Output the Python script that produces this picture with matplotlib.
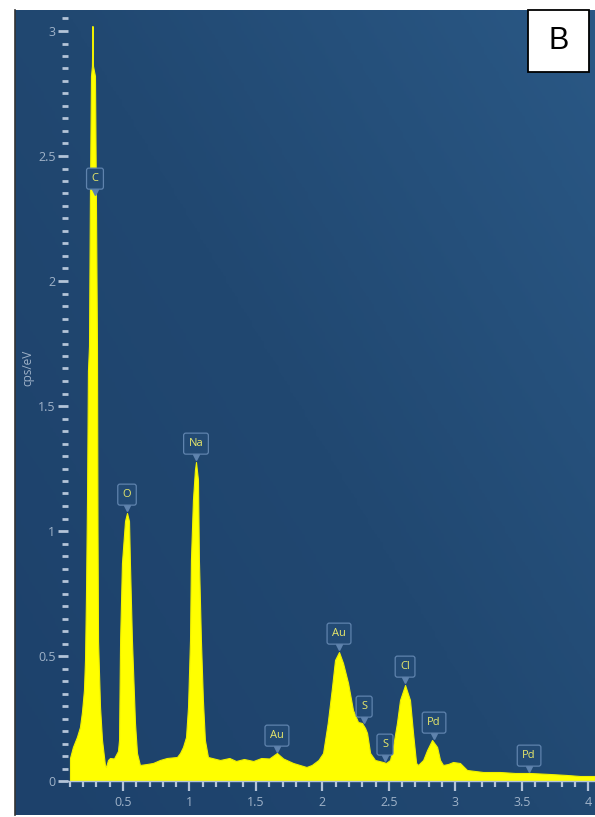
import matplotlib
matplotlib.use("Agg")
import matplotlib.pyplot as plt
import numpy as np
from matplotlib.colors import LinearSegmentedColormap
from matplotlib.patches import Rectangle
from matplotlib.ticker import MultipleLocator
import matplotlib.transforms as mtransforms

# EDS spectrum, energy in keV and intensity in cps/eV
energy = [0.101, 0.123, 0.153, 0.176, 0.191, 0.206, 0.214, 0.221, 0.229, 0.236,
          0.244, 0.251, 0.259, 0.266, 0.270, 0.274, 0.289, 0.296, 0.304, 0.308,
          0.312, 0.327, 0.342, 0.364, 0.372, 0.387, 0.402, 0.432, 0.462, 0.470,
          0.478, 0.492, 0.515, 0.530, 0.545, 0.552, 0.567, 0.590, 0.605, 0.627,
          0.680, 0.725, 0.778, 0.830, 0.906, 0.929, 0.951, 0.974, 0.989, 1.004,
          1.011, 1.026, 1.041, 1.049, 1.064, 1.071, 1.086, 1.101, 1.116, 1.139,
          1.169, 1.230, 1.300, 1.350, 1.410, 1.480, 1.540, 1.600, 1.658, 1.705,
          1.780, 1.830, 1.880, 1.920, 1.970, 2.005, 2.040, 2.070, 2.095, 2.125,
          2.155, 2.193, 2.230, 2.268, 2.298, 2.321, 2.336, 2.359, 2.396, 2.456,
          2.479, 2.509, 2.531, 2.561, 2.584, 2.622, 2.659, 2.682, 2.705, 2.720,
          2.735, 2.758, 2.788, 2.825, 2.863, 2.885, 2.908, 2.946, 2.983, 3.035,
          3.088, 3.148, 3.209, 3.336, 3.449, 3.562, 3.712, 3.840, 3.937, 4.051]
counts = [0.092, 0.136, 0.176, 0.216, 0.276, 0.364, 0.484, 0.730, 1.120, 1.640,
          1.740, 2.340, 2.820, 2.860, 3.020, 2.860, 2.820, 2.340, 1.740, 1.000,
          0.560, 0.296, 0.164, 0.064, 0.056, 0.084, 0.092, 0.090, 0.120, 0.164,
          0.564, 0.872, 1.040, 1.072, 1.040, 0.872, 0.564, 0.232, 0.112, 0.064,
          0.068, 0.072, 0.084, 0.092, 0.096, 0.112, 0.136, 0.176, 0.296, 0.564,
          0.884, 1.124, 1.244, 1.276, 1.204, 0.884, 0.564, 0.324, 0.164, 0.096,
          0.092, 0.084, 0.092, 0.080, 0.088, 0.080, 0.092, 0.090, 0.112, 0.090,
          0.072, 0.064, 0.056, 0.064, 0.084, 0.112, 0.232, 0.364, 0.484, 0.516,
          0.472, 0.392, 0.284, 0.236, 0.232, 0.212, 0.192, 0.112, 0.084, 0.076,
          0.072, 0.084, 0.136, 0.232, 0.324, 0.384, 0.324, 0.192, 0.072, 0.064,
          0.072, 0.084, 0.124, 0.164, 0.136, 0.084, 0.064, 0.068, 0.076, 0.072,
          0.044, 0.040, 0.036, 0.036, 0.032, 0.032, 0.028, 0.024, 0.020, 0.020]

# element markers: line energy and height of the pointer tip
line_names = ["C", "O", "Na", "Au", "Au", "S", "S", "Cl", "Pd", "Pd"]
line_energy = [0.289, 0.530, 1.049, 1.658, 2.125, 2.314, 2.471, 2.622, 2.840, 3.555]
line_height = [2.34, 1.076, 1.28, 0.112, 0.52, 0.228, 0.076, 0.388, 0.164, 0.032]

W, H = 595, 817
fig = plt.figure(figsize=(W / 100, H / 100), dpi=100)
fig.patch.set_facecolor("white")

def fx(px):
    return px / W

def fy(py):
    return 1 - py / H

# blue panel with a soft diagonal gradient
bg = fig.add_axes([fx(15), fy(815), fx(595) - fx(15), fy(10) - fy(815)])
gx, gy = np.meshgrid(np.linspace(0, 1, 200), np.linspace(0, 1, 200))
grad = 0.55 * gx + 0.45 * gy
cmap = LinearSegmentedColormap.from_list("panel", ["#1d416b", "#214871", "#2a5885"])
bg.imshow(grad, cmap=cmap, origin="lower", aspect="auto", extent=[0, 1, 0, 1])
bg.set_axis_off()

fig.add_artist(plt.Line2D([fx(14.5), fx(14.5)], [fy(815), fy(10)], color="#333333", lw=1.2))

ax = fig.add_axes([fx(68), fy(781), fx(595) - fx(68), fy(10) - fy(781)])
ax.patch.set_alpha(0)
ax.set_xlim(0.086, 4.051)
ax.set_ylim(0, 3.084)

ax.fill_between(energy, counts, 0, color="#ffff00", lw=0.8, edgecolor="#f0f000")

tick_col = "#b4c4d8"
lab_col = "#9fb2c8"
for s in ["left", "right", "top"]:
    ax.spines[s].set_visible(False)
ax.spines["bottom"].set_color(tick_col)
ax.spines["bottom"].set_linewidth(1.0)

ax.xaxis.set_major_locator(MultipleLocator(0.5))
ax.xaxis.set_minor_locator(MultipleLocator(0.1))
ax.yaxis.set_major_locator(MultipleLocator(0.5))
ax.yaxis.set_minor_locator(MultipleLocator(0.05))
ax.tick_params(axis="x", which="major", direction="out", length=7, width=1.6,
               color=tick_col, labelcolor=lab_col, labelsize=9, pad=4)
ax.tick_params(axis="x", which="minor", direction="out", length=4, width=1.6,
               color=tick_col)
ax.tick_params(axis="y", which="major", direction="out", length=7.5, width=2.0,
               color=tick_col, labelcolor=lab_col, labelsize=9, pad=1.5)
ax.tick_params(axis="y", which="minor", direction="out", length=4, width=2.0,
               color=tick_col)
ax.set_xticks([0.5, 1, 1.5, 2, 2.5, 3, 3.5, 4])
ax.set_xticklabels(["0.5", "1", "1.5", "2", "2.5", "3", "3.5", "4"])
ax.set_yticks([0, 0.5, 1, 1.5, 2, 2.5, 3])
ax.set_yticklabels(["0", "0.5", "1", "1.5", "2", "2.5", "3"])
for lab in ax.get_xticklabels() + ax.get_yticklabels():
    lab.set_family("Open Sans")

fig.text(fx(28), fy(368), "cps/eV", rotation=90, color=lab_col, fontsize=8.5,
         family="Open Sans", ha="center", va="center")

# element tags: rounded box above a small downward pointer
box_col = "#5f83ad"
for name, e, h in zip(line_names, line_energy, line_height):
    ax.annotate(name, xy=(e, h), xytext=(0, 12.5), textcoords="offset points",
                ha="center", va="center", fontsize=8, color="#e8e86a",
                family="Open Sans",
                bbox=dict(boxstyle="round,pad=0.45,rounding_size=0.2",
                          fc="#234a74", ec=box_col, lw=0.9))
    tr = mtransforms.offset_copy(ax.transData, fig=fig, x=0, y=2.6, units="points")
    ax.plot(e, h, marker="v", ms=5, color=box_col, mec=box_col, transform=tr,
            clip_on=False)

# panel letter
fig.add_artist(Rectangle((fx(528), fy(72)), fx(589) - fx(528), fy(10) - fy(72),
                         facecolor="white", edgecolor="black", lw=1.3))
fig.text(fx(558.5), fy(41), "B", fontsize=22, family="Liberation Sans",
         ha="center", va="center", color="black")

fig.savefig("out.png", dpi=100)
